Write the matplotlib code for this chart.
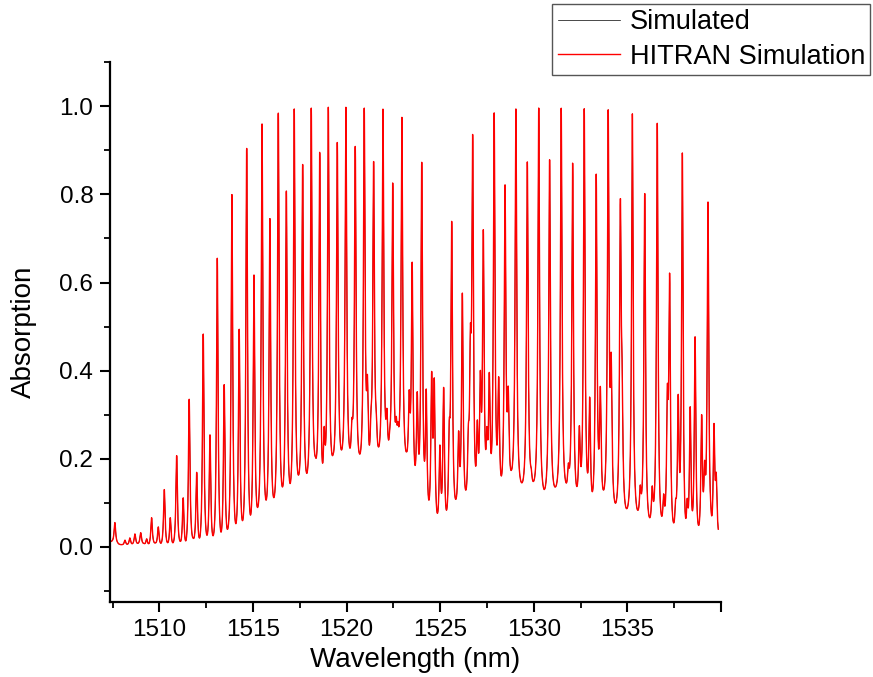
import matplotlib
matplotlib.use("Agg")
from matplotlib import pyplot as plt
from matplotlib.ticker import MultipleLocator, FixedLocator, FormatStrFormatter
import numpy as np

plt.rcParams['font.family'] = ['Liberation Sans', 'DejaVu Sans']

# Line centres (nm) and peak absorption
line_wl = [1507.62, 1508.16, 1508.42, 1508.69, 1509.00, 1509.32, 1509.58, 1509.94,
           1510.26, 1510.58, 1510.92, 1511.27, 1511.59, 1511.99, 1512.34, 1512.70,
           1513.09, 1513.46, 1513.87, 1514.26, 1514.66, 1515.05, 1515.48, 1515.90,
           1516.35, 1516.78, 1517.20, 1517.65, 1518.11, 1518.56, 1519.02, 1519.50,
           1519.96, 1520.46, 1520.94, 1521.44, 1521.94, 1522.46, 1522.95, 1523.50,
           1524.01, 1525.61, 1526.18, 1526.73, 1527.30, 1527.88, 1528.46, 1529.04,
           1529.65, 1530.26, 1530.84, 1531.46, 1532.07, 1532.69, 1533.33, 1533.97,
           1534.62, 1535.26, 1535.92, 1536.59, 1537.25, 1537.93, 1538.61, 1539.30]
line_abs = [0.055, 0.015, 0.020, 0.029, 0.032, 0.018, 0.066, 0.045,
            0.130, 0.066, 0.207, 0.111, 0.335, 0.169, 0.483, 0.254,
            0.655, 0.368, 0.800, 0.494, 0.905, 0.617, 0.960, 0.745,
            0.985, 0.808, 0.994, 0.868, 0.996, 0.896, 0.998, 0.918,
            0.998, 0.909, 0.996, 0.875, 0.994, 0.826, 0.975, 0.646,
            0.873, 0.739, 0.576, 0.936, 0.720, 0.985, 0.822, 0.994,
            0.874, 0.996, 0.879, 0.996, 0.871, 0.995, 0.846, 0.992,
            0.790, 0.983, 0.802, 0.962, 0.621, 0.894, 0.477, 0.783]

# Weaker (hot band) lines
weak_wl = [1518.80, 1520.28, 1521.11, 1521.30, 1521.58, 1522.15, 1522.30, 1522.65,
           1522.74, 1523.34, 1523.77, 1524.25, 1524.54, 1524.68, 1524.98, 1525.18,
           1525.48, 1525.98, 1526.50, 1526.61, 1526.98, 1527.14, 1527.49, 1527.62,
           1528.12, 1528.63, 1529.86, 1531.84, 1532.43, 1532.98, 1533.55, 1534.13,
           1534.71, 1535.68, 1536.32, 1536.93, 1537.13, 1537.57, 1537.71, 1538.19,
           1538.35, 1538.96, 1539.12, 1539.44, 1539.62, 1539.74]
weak_abs = [0.273, 0.292, 0.390, 0.311, 0.314, 0.314, 0.265, 0.296,
            0.284, 0.356, 0.352, 0.358, 0.398, 0.383, 0.231, 0.362,
            0.288, 0.263, 0.278, 0.504, 0.288, 0.400, 0.273, 0.396,
            0.386, 0.364, 0.178, 0.190, 0.275, 0.340, 0.364, 0.440,
            0.430, 0.140, 0.138, 0.120, 0.368, 0.108, 0.346, 0.110,
            0.318, 0.300, 0.196, 0.104, 0.280, 0.168]

# Valley floor between lines
base_wl = [1507.36, 1507.85, 1508.30, 1508.55, 1508.85, 1509.15, 1509.45, 1509.78,
           1510.10, 1510.42, 1510.75, 1511.10, 1511.43, 1511.80, 1512.17, 1512.52,
           1512.90, 1513.28, 1513.67, 1514.07, 1514.46, 1514.86, 1515.26, 1515.70,
           1516.12, 1516.57, 1516.99, 1517.43, 1517.88, 1518.33, 1518.68, 1519.27,
           1519.73, 1520.18, 1520.68, 1521.21, 1521.70, 1523.20, 1523.63, 1524.39,
           1524.85, 1525.33, 1525.85, 1526.37, 1526.86, 1528.28, 1528.80, 1529.40,
           1530.00, 1530.55, 1531.15, 1531.70, 1532.27, 1533.12, 1533.72, 1534.36,
           1534.94, 1535.55, 1536.19, 1536.80, 1537.45, 1538.08, 1538.77, 1539.53,
           1539.85]
base_abs = [0.012, 0.006, 0.006, 0.007, 0.008, 0.008, 0.008, 0.009,
            0.009, 0.010, 0.011, 0.013, 0.016, 0.020, 0.024, 0.028,
            0.030, 0.034, 0.045, 0.053, 0.062, 0.072, 0.091, 0.106,
            0.112, 0.136, 0.144, 0.163, 0.167, 0.205, 0.210, 0.209,
            0.220, 0.224, 0.212, 0.231, 0.227, 0.216, 0.193, 0.106,
            0.076, 0.083, 0.110, 0.129, 0.200, 0.163, 0.174, 0.148,
            0.150, 0.130, 0.136, 0.148, 0.140, 0.125, 0.129, 0.099,
            0.087, 0.083, 0.066, 0.074, 0.056, 0.078, 0.053, 0.080,
            0.040]

# build the spectrum: Lorentzian lines on a slowly varying floor,
# amplitudes solved so the curve passes through the read peaks and valleys
gamma = 0.05
centres = np.array(line_wl + weak_wl)
heights = np.array(line_abs + weak_abs)
bw = np.array(base_wl)
bv = np.array(base_abs)


def lor(x, c):
    return gamma**2 / ((x[:, None] - c[None, :])**2 + gamma**2)


def hats(x):
    return np.column_stack([np.interp(x, bw, col) for col in np.eye(len(bw))])


pts = np.concatenate([centres, bw])
M = np.hstack([lor(pts, centres), hats(pts)])
coef = np.linalg.solve(M, np.concatenate([heights, bv]))
amp, floor = coef[:len(centres)], coef[len(centres):]

wl = np.linspace(1507.40, 1539.85, 12000)
absorption = lor(wl, centres) @ amp + np.interp(wl, bw, floor)

fig = plt.figure(figsize=(8.73, 6.77), dpi=100)
ax = fig.add_axes([0.126, 0.111, 0.700, 0.797])

# black curve sits under the red one, as in the original overlay
l1, = ax.plot(wl, absorption, color='black', lw=0.5, label='Simulated')
l2, = ax.plot(wl, absorption, color='red', lw=1.0, label='HITRAN Simulation')

ax.set_xlim(1507.36, 1540.0)
ax.set_ylim(-0.125, 1.10)

ax.xaxis.set_major_locator(FixedLocator([1510, 1515, 1520, 1525, 1530, 1535, 1540]))
ax.set_xticklabels(['1510', '1515', '1520', '1525', '1530', '1535', ''])
ax.xaxis.set_minor_locator(FixedLocator([1507.5, 1512.5, 1517.5, 1522.5, 1527.5,
                                         1532.5, 1537.5]))
ax.yaxis.set_major_locator(MultipleLocator(0.2))
ax.yaxis.set_minor_locator(MultipleLocator(0.1))
ax.yaxis.set_major_formatter(FormatStrFormatter('%.1f'))

for s in ['top', 'right']:
    ax.spines[s].set_visible(False)
for s in ['left', 'bottom']:
    ax.spines[s].set_linewidth(1.6)

ax.tick_params(which='major', direction='out', length=7, width=1.5,
               labelsize=17.5, pad=5)
ax.tick_params(which='minor', direction='out', length=4, width=1.3)

ax.set_xlabel('Wavelength (nm)', fontsize=20, labelpad=5)
ax.set_ylabel('Absorption', fontsize=20, labelpad=16)

fig.legend(handles=[l1, l2], loc='upper right', bbox_to_anchor=(0.997, 0.994),
           fontsize=19.5, frameon=True, fancybox=False, edgecolor='#555555',
           framealpha=1, borderaxespad=0, borderpad=0.2, labelspacing=0.3,
           handlelength=2.3, handletextpad=0.35)

fig.savefig('out.png', dpi=100)
